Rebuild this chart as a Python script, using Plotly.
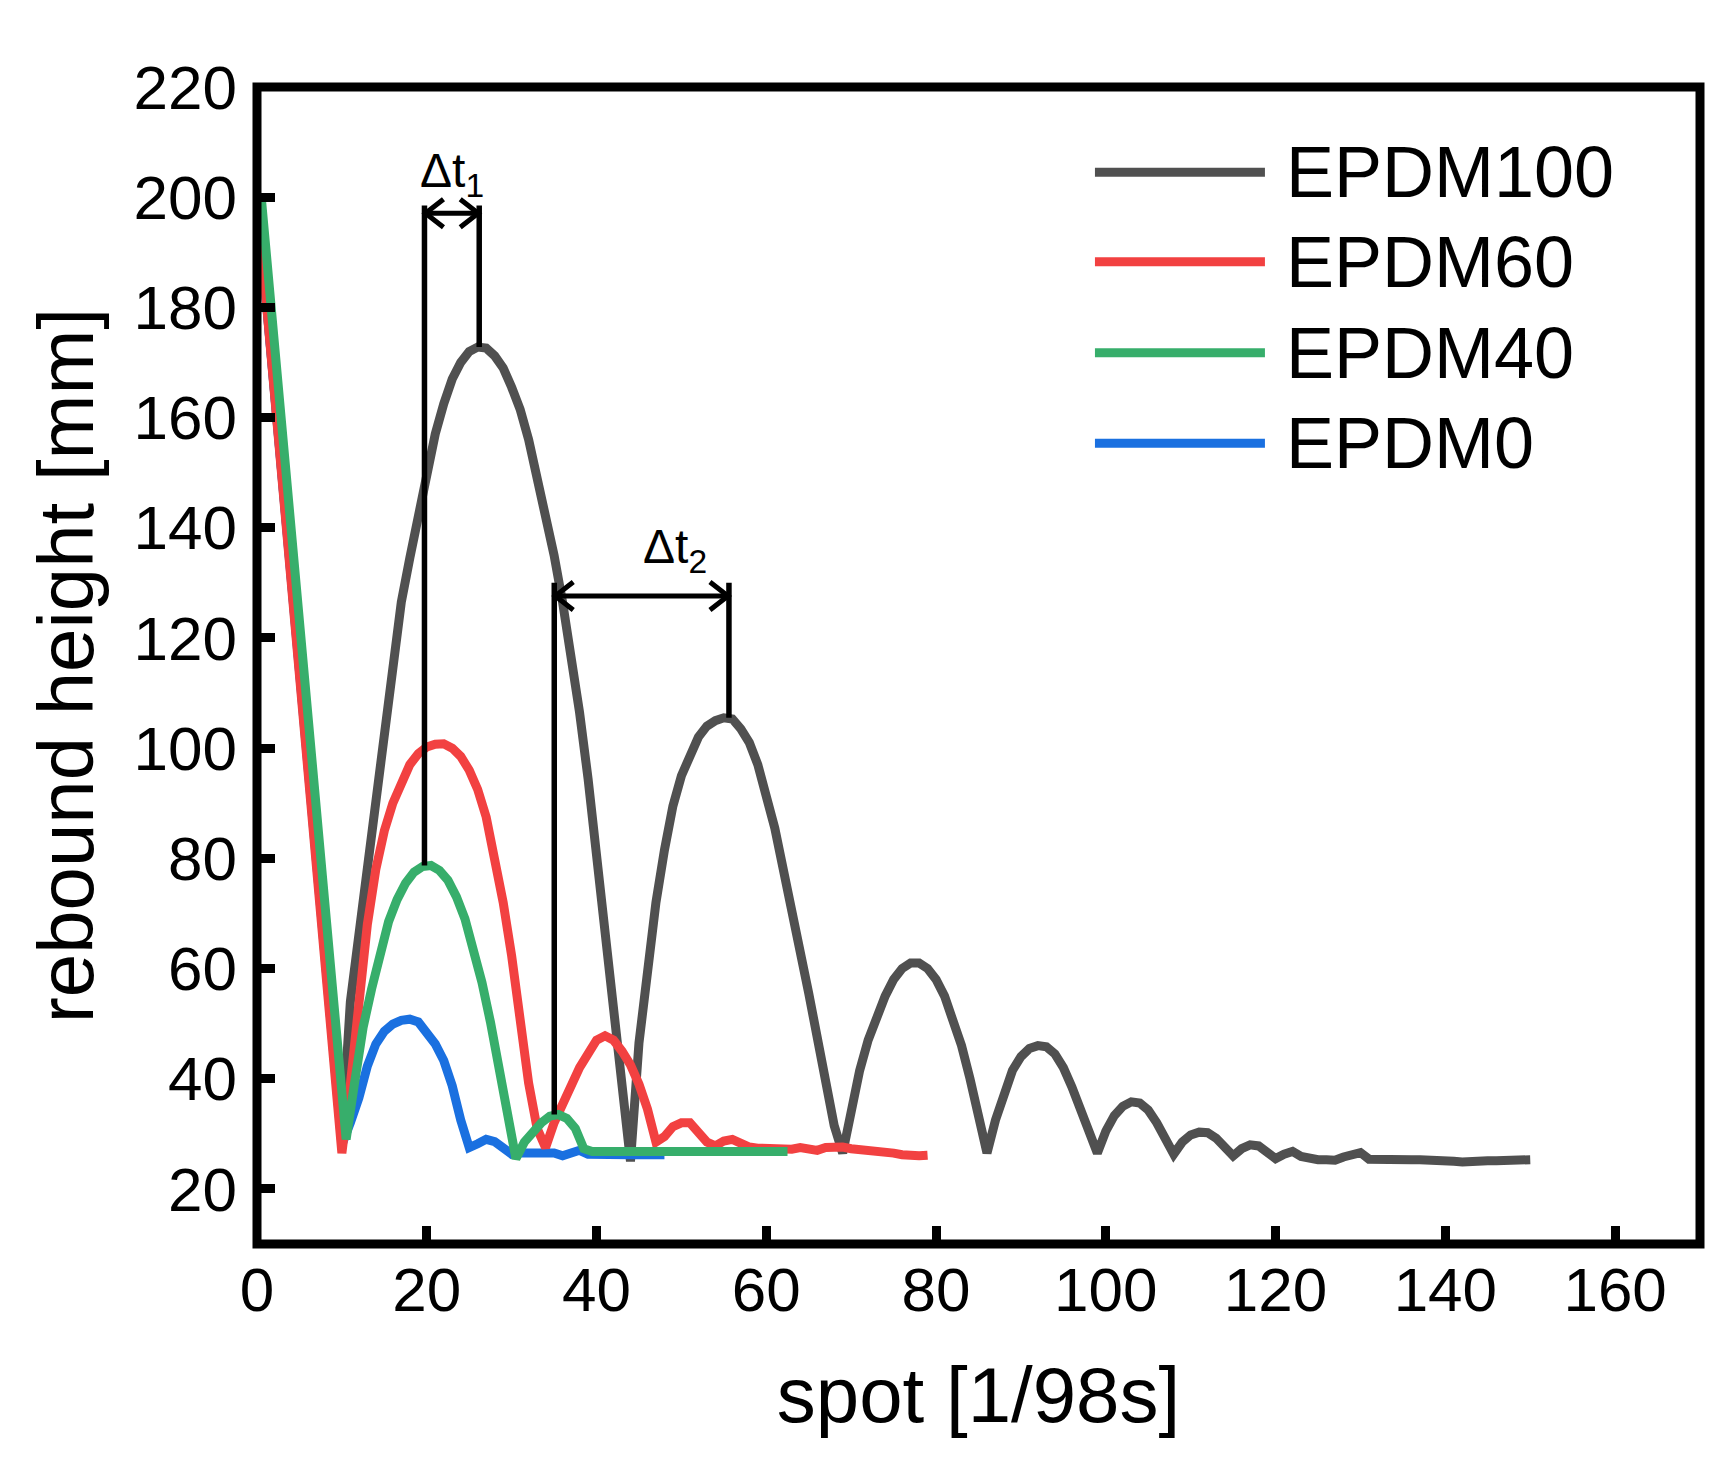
import plotly.graph_objects as go

# ---------------- data ----------------
x_epdm100 = [0] + list(range(10, 151))
y_epdm100 = [200,
    29, 54, 66, 79, 93, 105, 116, 126.5, 134.5, 142.5,
    149.5, 157, 162.5, 167, 170, 172, 172.8, 172.6, 171.2, 169,
    165.5, 161.5, 156, 149.5, 142.5, 135, 126.5, 117.5, 106.5, 94.5,
    80.5, 66, 51.5, 36.5, 25, 46.5, 60.5, 72, 81.5, 89.5,
    95, 99, 102, 104, 105, 105.5, 105.3, 103.5, 101, 97,
    91.5, 85.5, 78, 71, 63.5, 55.5, 47.5, 39.5, 31.5, 26.5,
    34.5, 41.5, 47, 51.5, 55, 58, 60, 61, 61, 60,
    58, 55, 51, 46, 40, 33, 26.5, 32.5, 37.5, 41.5,
    44, 45.5, 46, 45.8, 44.5, 42, 38.5, 34.5, 30.5, 26.5,
    30.5, 33.3, 35, 35.8, 35.6, 34.3, 32, 29.3, 26.3, 28.5,
    29.8, 30.3, 30.2, 29.2, 27.8, 26, 27.3, 28, 27.8, 26.8,
    25.5, 26.3, 26.8, 25.9, 25.5, 25.3, 25.3, 25.2, 25.8, 26.2,
    26.6, 25.4, 25.3, 25.3, 25.3, 25.3, 25.3, 25.3, 25.3, 25.4,
    25.2, 25.0, 24.9, 25.1, 25.1, 25.1, 25.1, 25.1, 25.1, 25.1,
    25.3]

x_epdm60 = [0] + list(range(10, 80))
y_epdm60 = [200,
    26.5, 39, 54, 68, 78, 85, 90, 94, 97, 99,
    100.2, 100.7, 100.8, 100, 98.5, 96, 92.5, 87.5, 80.5, 72,
    62.3, 50.8, 39.2, 31, 27.5, 32, 35.5, 38.5, 42, 44.5,
    47, 47.8, 47, 45, 42.5, 39, 34.5, 28.5, 29.5, 31.3,
    32, 32, 30.5, 28.5, 27.8, 28.7, 29, 28.2, 27.6, 27.4,
    27.3, 27.3, 27.2, 27.2, 27.5, 27.3, 27.0, 27.5, 27.7, 27.6,
    27.3, 27.2, 27.0, 26.9, 26.9, 26.5, 26.2, 26.0, 26.0, 26.1]

x_epdm40 = [0.5] + [i + 0.5 for i in range(10, 63)]
y_epdm40 = [200,
    29, 39.3, 49.3, 56.3, 63, 68.5, 72.5, 75.5, 77.5, 78.5,
    78.7, 77.8, 76, 73, 69, 63.5, 57.5, 50.3, 42.3, 34,
    25.5, 28.5, 30.5, 32, 33.2, 33.5, 32.8, 31, 27.3, 26.8,
    26.8, 26.8, 26.8, 26.8, 26.8, 26.8, 26.8, 26.8, 26.8, 26.8,
    26.8, 26.8, 26.8, 26.8, 26.8, 26.8, 26.8, 26.8, 26.8, 26.8,
    26.8, 26.8, 26.8]

x_epdm0 = [0] + list(range(10, 49))
y_epdm0 = [200,
    28, 32, 36.5, 42.3, 46.3, 48.6, 49.9, 50.6, 50.8, 50.3,
    48.6, 46.3, 43.3, 38.7, 32.5, 27.5, 28.2, 29, 28.6, 27.4,
    26.3, 26.5, 26.6, 26.5, 26.4, 26.5, 26, 26.6, 27, 26.3,
    26.2, 26.2, 26.2, 26.2, 26.2, 26.2, 26.2, 26.2, 26.2]

series_names = ["EPDM100", "EPDM60", "EPDM40", "EPDM0"]
series_colors = ["#505050", "#F24141", "#37AE6B", "#1A70E0"]

x_ticks = [0, 20, 40, 60, 80, 100, 120, 140, 160]
y_ticks = [20, 40, 60, 80, 100, 120, 140, 160, 180, 200, 220]

# marker lines for the Δt annotations: (x, y_bottom, y_top)
dt_lines = [(19.73, 78.7, 198.5), (26.18, 172.8, 198.5),
            (35.02, 33.5, 130.0), (55.6, 105.5, 130.0)]
dt_arrows = [(19.73, 26.18, 197.1), (35.02, 55.6, 127.6)]
dt_labels = [("Δt<sub>1</sub>", 23.0, 204.3), ("Δt<sub>2</sub>", 49.3, 135.9)]

FONT = "Liberation Sans, Arial, sans-serif"
LW = 9

fig = go.Figure()
data_map = {
    "EPDM100": (x_epdm100, y_epdm100),
    "EPDM60": (x_epdm60, y_epdm60),
    "EPDM40": (x_epdm40, y_epdm40),
    "EPDM0": (x_epdm0, y_epdm0),
}
color_map = dict(zip(series_names, series_colors))
# drawing order (bottom to top) as in the picture
for name in ["EPDM100", "EPDM0", "EPDM60", "EPDM40"]:
    xs, ys = data_map[name]
    fig.add_trace(go.Scatter(x=xs, y=ys, mode="lines", name=name,
                             line=dict(color=color_map[name], width=LW),
                             showlegend=False, cliponaxis=True))

shapes = []
for (x, y0, y1) in dt_lines:
    shapes.append(dict(type="line", xref="x", yref="y", x0=x, x1=x, y0=y0, y1=y1,
                       line=dict(color="black", width=5.5)))
for (xa, xb, y) in dt_arrows:
    shapes.append(dict(type="line", xref="x", yref="y", x0=xa, x1=xb, y0=y, y1=y,
                       line=dict(color="black", width=5)))
    shapes.append(dict(type="path", xref="x", yref="y", xsizemode="pixel", ysizemode="pixel",
                       xanchor=xa, yanchor=y, path="M 19 14 L 1 0 L 19 -14",
                       line=dict(color="black", width=5)))
    shapes.append(dict(type="path", xref="x", yref="y", xsizemode="pixel", ysizemode="pixel",
                       xanchor=xb, yanchor=y, path="M -19 14 L -1 0 L -19 -14",
                       line=dict(color="black", width=5)))

# plot frame, centred on the plot-area edges
shapes.append(dict(type="rect", xref="paper", yref="paper", x0=0, x1=1, y0=0, y1=1,
                   line=dict(color="black", width=9), fillcolor="rgba(0,0,0,0)", layer="above"))

annotations = []
for (txt, x, y) in dt_labels:
    annotations.append(dict(text=txt, x=x, y=y, xref="x", yref="y", showarrow=False,
                            xanchor="center", yanchor="middle",
                            font=dict(family=FONT, size=48, color="black")))

# manual legend (long sample lines as in the picture)
leg_x0, leg_x1, leg_tx = 0.5807, 0.6985, 0.7117
leg_y = [0.9263, 0.8490, 0.7704, 0.6920]
for name, yy in zip(series_names, leg_y):
    shapes.append(dict(type="line", xref="paper", yref="paper", x0=leg_x0, x1=leg_x1,
                       y0=yy, y1=yy, line=dict(color=color_map[name], width=LW)))
    annotations.append(dict(text=name, x=leg_tx, y=yy, xref="paper", yref="paper",
                            showarrow=False, xanchor="left", yanchor="middle",
                            font=dict(family=FONT, size=72, color="black")))

axis_common = dict(showgrid=False, zeroline=False, showline=False,
                   ticks="inside", ticklen=18, tickwidth=9,
                   tickcolor="black", tickfont=dict(family=FONT, size=62, color="black"))

fig.update_layout(
    width=1728, height=1480,
    margin=dict(l=249, r=36, t=79, b=244),
    paper_bgcolor="white", plot_bgcolor="white",
    font=dict(family=FONT, color="black"),
    shapes=shapes, annotations=annotations,
    xaxis=dict(range=[0, 170], tickvals=x_ticks, ticklabelstandoff=4,
               title=dict(text="spot [1/98s]", font=dict(family=FONT, size=78), standoff=44),
               **axis_common),
    yaxis=dict(range=[10, 220], tickvals=y_ticks, ticklabelstandoff=19,
               title=dict(text="rebound height [mm]", font=dict(family=FONT, size=78), standoff=14),
               **axis_common),
)

fig.write_html("out.html")
